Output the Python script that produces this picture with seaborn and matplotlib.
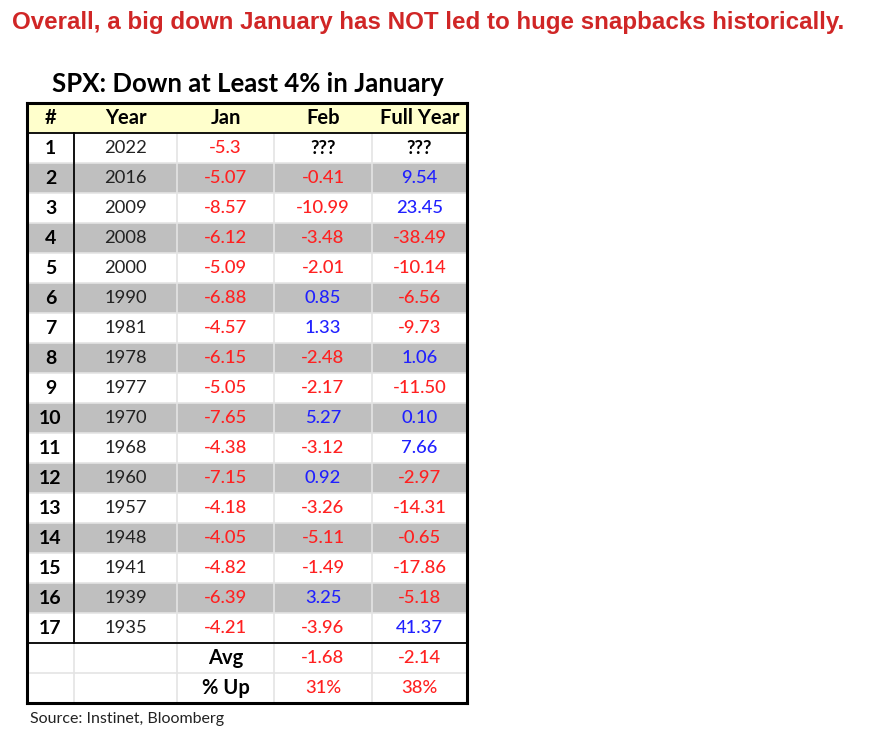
import numpy as np
import pandas as pd
import seaborn as sns
import matplotlib.pyplot as plt
from matplotlib.colors import ListedColormap

idx = list(range(1, 18))
years = [2022, 2016, 2009, 2008, 2000, 1990, 1981, 1978, 1977, 1970,
         1968, 1960, 1957, 1948, 1941, 1939, 1935]
jan = ["-5.3", "-5.07", "-8.57", "-6.12", "-5.09", "-6.88", "-4.57", "-6.15", "-5.05",
       "-7.65", "-4.38", "-7.15", "-4.18", "-4.05", "-4.82", "-6.39", "-4.21"]
feb = ["???", "-0.41", "-10.99", "-3.48", "-2.01", "0.85", "1.33", "-2.48", "-2.17",
       "5.27", "-3.12", "0.92", "-3.26", "-5.11", "-1.49", "3.25", "-3.96"]
full_year = ["???", "9.54", "23.45", "-38.49", "-10.14", "-6.56", "-9.73", "1.06", "-11.50",
             "0.10", "7.66", "-2.97", "-14.31", "-0.65", "-17.86", "-5.18", "41.37"]
summary_labels = ["Avg", "% Up"]
summary_feb = ["-1.68", "31%"]
summary_full = ["-2.14", "38%"]
headers = ["#", "Year", "Jan", "Feb", "Full Year"]

RED = "#FF2020"
BLUE = "#2020FF"
GREY = "#BFBFBF"
YELLOW = "#FFFFCC"
FAM = ["Lato", "DejaVu Sans"]

df = pd.DataFrame({"#": idx, "Year": years, "Jan": jan, "Feb": feb, "Full Year": full_year})

# shading code per table row: 2 header, 1 grey band, 0 white
shade = [2] + [1 if i % 2 == 0 else 0 for i in idx] + [0, 0]
shade_df = pd.DataFrame({"shade": shade})

fig = plt.figure(figsize=(8.72, 7.46), dpi=100)
ax = fig.add_axes([27 / 872, 1 - 703 / 746, 440 / 872, 600 / 746])
sns.heatmap(shade_df, ax=ax, cmap=ListedColormap(["white", GREY, YELLOW]), vmin=-0.5, vmax=2.5,
            cbar=False, xticklabels=False, yticklabels=False, linewidths=0)
ax.set_xlim(0, 1)
ax.set_ylim(len(shade), 0)

# column edges as fractions of table width
edges = np.array([0, 47, 150, 247, 345, 440]) / 440
centers = (edges[:-1] + edges[1:]) / 2
nrows = len(shade)

# light grid
for e in edges[1:-1]:
    ax.plot([e, e], [1, nrows], color="#E4E4E4", lw=1.2, zorder=2)
for r in range(2, nrows):
    ax.plot([0, 1], [r, r], color="#E4E4E4", lw=1.2, zorder=2)

# black structure lines
ax.plot([edges[1], edges[1]], [1, 18], color="black", lw=1.3, zorder=3)
ax.plot([0, 1], [1, 1], color="black", lw=1.3, zorder=3)
ax.plot([0, 1], [18, 18], color="black", lw=1.3, zorder=3)
for s in ax.spines.values():
    s.set_visible(True)
    s.set_color("black")
    s.set_linewidth(2.2)
    s.set_zorder(4)

plt.rcParams["font.family"] = FAM
fs = 13.2
fs_bold = 14.5


def val_color(v):
    if v.startswith("?"):
        return "black"
    return RED if v.startswith("-") else BLUE


for j, h in enumerate(headers):
    ax.text(centers[j], 0.5, h, ha="center", va="center", fontsize=fs_bold, fontweight="bold",
            color="black", family=FAM)

for i, row in df.iterrows():
    y = i + 1.5
    ax.text(centers[0], y, str(row["#"]), ha="center", va="center", fontsize=fs_bold - 0.5,
            fontweight="bold", family=FAM)
    ax.text(centers[1], y, str(row["Year"]), ha="center", va="center", fontsize=fs,
            color="#222222", family=FAM)
    for j, col in zip([2, 3, 4], ["Jan", "Feb", "Full Year"]):
        v = row[col]
        ax.text(centers[j], y, v, ha="center", va="center", fontsize=fs,
                color=val_color(v), family=FAM,
                fontweight="bold" if v.startswith("?") else "medium")

for k, lab in enumerate(summary_labels):
    y = 18.5 + k
    ax.text(centers[2], y, lab, ha="center", va="center", fontsize=fs_bold, fontweight="bold",
            family=FAM)
    ax.text(centers[3], y, summary_feb[k], ha="center", va="center", fontsize=fs, color=RED,
            family=FAM, fontweight="medium")
    ax.text(centers[4], y, summary_full[k], ha="center", va="center", fontsize=fs, color=RED,
            family=FAM, fontweight="medium")

fig.text(248 / 872, 1 - 84 / 746, "SPX: Down at Least 4% in January", ha="center", va="center",
         fontsize=18.5, fontweight="bold", family=FAM)
fig.text(12 / 872, 1 - 22 / 746, "Overall, a big down January has NOT led to huge snapbacks historically.",
         ha="left", va="center", fontsize=17.4, fontweight="bold", color="#D02626",
         family=["Liberation Sans", "DejaVu Sans"])
fig.text(30 / 872, 1 - 719 / 746, "Source: Instinet, Bloomberg", ha="left", va="center",
         fontsize=11.5, color="#222222", family=FAM)

fig.savefig("out.png", dpi=100, facecolor="white")
